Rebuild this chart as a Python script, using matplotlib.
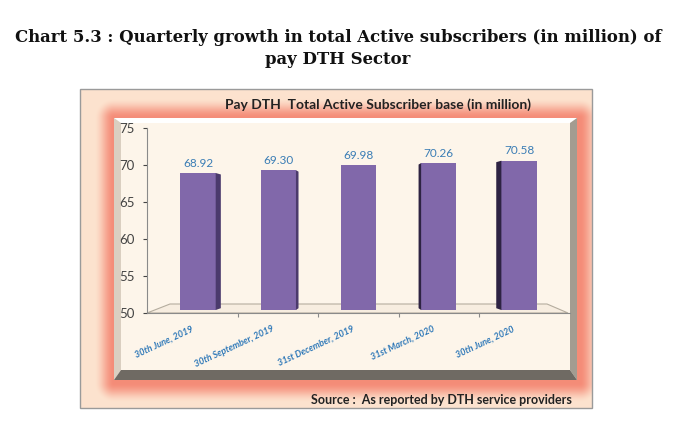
import numpy as np
import matplotlib.pyplot as plt
from matplotlib.patches import Rectangle, Polygon

# data
dates = ['30th June, 2019', '30th September, 2019', '31st December, 2019',
         '31st March, 2020', '30th June, 2020']
subscribers = [68.92, 69.30, 69.98, 70.26, 70.58]
yticks = [50, 55, 60, 65, 70, 75]

W, H = 673, 446
fig = plt.figure(figsize=(6.73, 4.46), dpi=100)
fig.patch.set_facecolor('white')

# background layer in pixel coords
bg = fig.add_axes([0, 0, 1, 1], zorder=0)
bg.axis('off')

fx0, fy0, fx1, fy1 = 80, 89, 592, 408      # outer frame
px0, py0, px1, py1 = 114, 118, 577, 380    # inner panel

# soft red glow around the inner panel (a bit shifted down/right)
xx, yy = np.meshgrid(np.arange(fx0, fx1) + 0.5, np.arange(fy0, fy1) + 0.5)
dx = np.maximum(np.maximum(px0 - xx, xx - (px1 + 3)), 0)
dy = np.maximum(np.maximum(py0 - yy, yy - (py1 + 3)), 0)
t = np.clip(np.hypot(dx, dy) / 20.0, 0, 1)
t = (t * t * (3 - 2 * t))[..., None]
glow = np.array([0.96, 0.55, 0.47])
peach = np.array([0.99, 0.89, 0.81])
img = glow * (1 - t) + peach * t
bg.imshow(img, extent=(fx0, fx1, fy1, fy0), interpolation='bilinear', aspect='auto', zorder=0)
bg.add_patch(Rectangle((fx0, fy0), fx1 - fx0, fy1 - fy0, fill=False, ec='#9a9a9a', lw=1, zorder=1))

# bevelled inner panel
b = 7
bg.add_patch(Rectangle((px0, py0), px1 - px0, py1 - py0, fc='#fdf5ea', ec='none', zorder=2))
bg.add_patch(Polygon([(px0, py0), (px1, py0), (px1 - b, py0 + 5), (px0 + b, py0 + 5)], fc='#ffffff', ec='none', zorder=3))
bg.add_patch(Polygon([(px0, py0), (px0 + b, py0 + 5), (px0 + b, py1 - 10), (px0, py1)], fc='#dacfc1', ec='none', zorder=3))
bg.add_patch(Polygon([(px1, py0), (px1 - b, py0 + 5), (px1 - b, py1 - 10), (px1, py1)], fc='#a39c91', ec='none', zorder=3))
bg.add_patch(Polygon([(px0, py1), (px0 + b, py1 - 10), (px1 - b, py1 - 10), (px1, py1)], fc='#6f6a63', ec='none', zorder=3))

# floor
bg.add_patch(Polygon([(147, 313), (568, 313), (547, 304), (170, 304)], fc='#f7ede0', ec='#b5ad9f', lw=0.8, zorder=4))
bg.set_xlim(0, W)
bg.set_ylim(H, 0)

bg.text(378, 105, 'Pay DTH  Total Active Subscriber base (in million)', ha='center', va='center',
        fontsize=10, fontweight='bold', family='Lato', color='#222222', zorder=5)
bg.text(572, 400, 'Source :  As reported by DTH service providers', ha='right', va='center',
        fontsize=9, fontweight='bold', family='Lato', color='#222222', zorder=5)
bg.text(338, 38, 'Chart 5.3 : Quarterly growth in total Active subscribers (in million) of',
        ha='center', va='center', fontsize=11.9, fontweight='bold', family='DejaVu Serif', color='#111111')
bg.text(338, 60, 'pay DTH Sector', ha='center', va='center', fontsize=11.9,
        fontweight='bold', family='DejaVu Serif', color='#111111')

# data axes
ax = fig.add_axes([147 / W, (H - 313) / H, (570 - 147) / W, (313 - 128) / H], zorder=2)
ax.set_facecolor('none')
x = np.arange(len(subscribers))
base = 50.4
width = 0.44
front = '#8168aa'
ax.bar(x, [v - base for v in subscribers], bottom=base, width=width, color=front, zorder=3)

# side faces for the 3D look, and the value labels
for i, v in enumerate(subscribers):
    ax.text(i, v + 1.35, f'{v:.2f}', ha='center', va='center', fontsize=8.5,
            family='Lato', color='#3a7db5')
    s = (2 - i) * 0.032
    if s == 0:
        continue
    edge = i + width / 2 if s > 0 else i - width / 2
    col = '#4b3a6c' if s > 0 else '#2e2343'
    ax.add_patch(Polygon([(edge, base), (edge + s, base + 0.25), (edge + s, v - 0.2), (edge, v)],
                         fc=col, ec='none', zorder=3))

for i, lab in enumerate(dates):
    ax.annotate(lab, xy=(i, 50), xytext=(-5, -8), textcoords='offset points', rotation=25,
                ha='right', va='top', rotation_mode='anchor', fontsize=6.5, fontweight='bold',
                fontstyle='italic', family='Lato', color='#2e78b8')

ax.set_xlim(-0.636, 4.635)
ax.set_ylim(50, 75)
ax.set_yticks(yticks)
ax.set_xticks([0.5, 1.5, 2.5, 3.5])
ax.set_xticklabels([])
ax.tick_params(axis='y', labelsize=9.5, colors='#444444', length=3, pad=6, width=0.8)
ax.tick_params(axis='x', length=3, width=0.8, colors='#8a8a8a')
for lab in ax.get_yticklabels():
    lab.set_family('Lato')
for sp in ['top', 'right']:
    ax.spines[sp].set_visible(False)
ax.spines['left'].set_color('#8a8a8a')
ax.spines['bottom'].set_color('#8a8a8a')
ax.spines['left'].set_linewidth(0.8)
ax.spines['bottom'].set_linewidth(0.8)

fig.savefig('out.png', dpi=100)
